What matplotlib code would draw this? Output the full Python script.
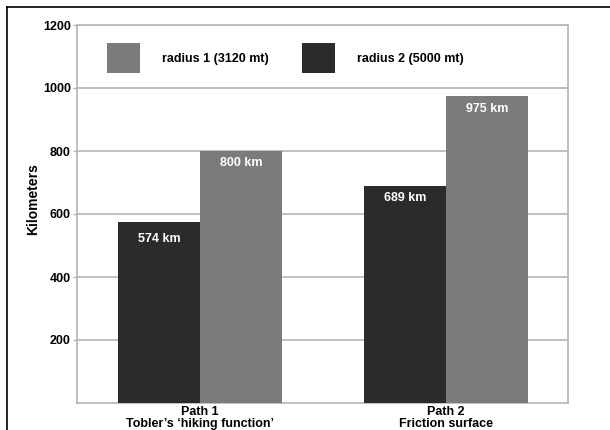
import matplotlib
matplotlib.use("Agg")
import matplotlib.pyplot as plt
from matplotlib.patches import Patch
from matplotlib.lines import Line2D
import numpy as np

# data
categories = ["Path 1\nTobler\u2019s \u2018hiking function\u2019", "Path 2\nFriction surface"]
series_names = ["radius 1 (3120 mt)", "radius 2 (5000 mt)"]
radius1 = [800, 975]
radius2 = [574, 689]
y_ticks = [200, 400, 600, 800, 1000, 1200]

light = "#7b7b7b"
dark = "#2b2b2b"
grid_col = "#b5b5b5"

plt.rcParams['font.family'] = ['Liberation Sans', 'DejaVu Sans']
plt.rcParams['font.weight'] = 'bold'
fs = 9

fig = plt.figure(figsize=(6.1, 4.3), dpi=100)
ax = fig.add_axes([77/610, 1-403/430, 491/610, 378/430])

x = np.arange(len(categories))
w = 0.333
b2 = ax.bar(x - w/2, radius2, w, color=dark, zorder=3)
b1 = ax.bar(x + w/2, radius1, w, color=light, zorder=3)

# value labels inside bars
for bars, vals, offs in [(b2, radius2, [-17, -12]), (b1, radius1, [-12, -13])]:
    for rect, v, o in zip(bars, vals, offs):
        ax.annotate("%d km" % v, (rect.get_x() + rect.get_width()/2, v),
                    xytext=(0, o * 0.72), textcoords="offset points",
                    ha="center", va="center", color="white",
                    fontsize=fs, fontweight="bold", zorder=4)

ax.set_xlim(-0.5, 1.496)
ax.set_ylim(0, 1200)
ax.set_yticks(y_ticks)
ax.set_xticks(x)
ax.set_xticklabels(categories, fontsize=fs, fontweight="bold", linespacing=1.0)
ax.tick_params(axis="x", length=0, pad=2)
ax.tick_params(axis="y", length=3, color=grid_col, width=1, pad=1.5, labelsize=fs)
ax.yaxis.grid(True, color=grid_col, linewidth=1.2, zorder=0)
for s in ax.spines.values():
    s.set_color(grid_col)
    s.set_linewidth(1.2)

fig.text(33/610, 1-199/430, "Kilometers", rotation=90, ha="center", va="center",
         fontsize=10, fontweight="bold")

handles = [Patch(facecolor=light), Patch(facecolor=dark)]
ax.legend(handles, series_names, ncol=2, frameon=False, loc="center left",
          bbox_to_anchor=(30/491, (403-58)/378), borderpad=0, borderaxespad=0,
          handlelength=2.64, handleheight=3.4, handletextpad=1.76,
          columnspacing=2.64, prop={"size": fs, "weight": "bold"})

# outer frame (top and left visible)
fig.add_artist(Line2D([7/610, 7/610], [0, 1-7/430], color="black", linewidth=1.2,
                      transform=fig.transFigure))
fig.add_artist(Line2D([7/610, 1], [1-7/430, 1-7/430], color="black", linewidth=1.2,
                      transform=fig.transFigure))

fig.savefig("out.png", dpi=100)
